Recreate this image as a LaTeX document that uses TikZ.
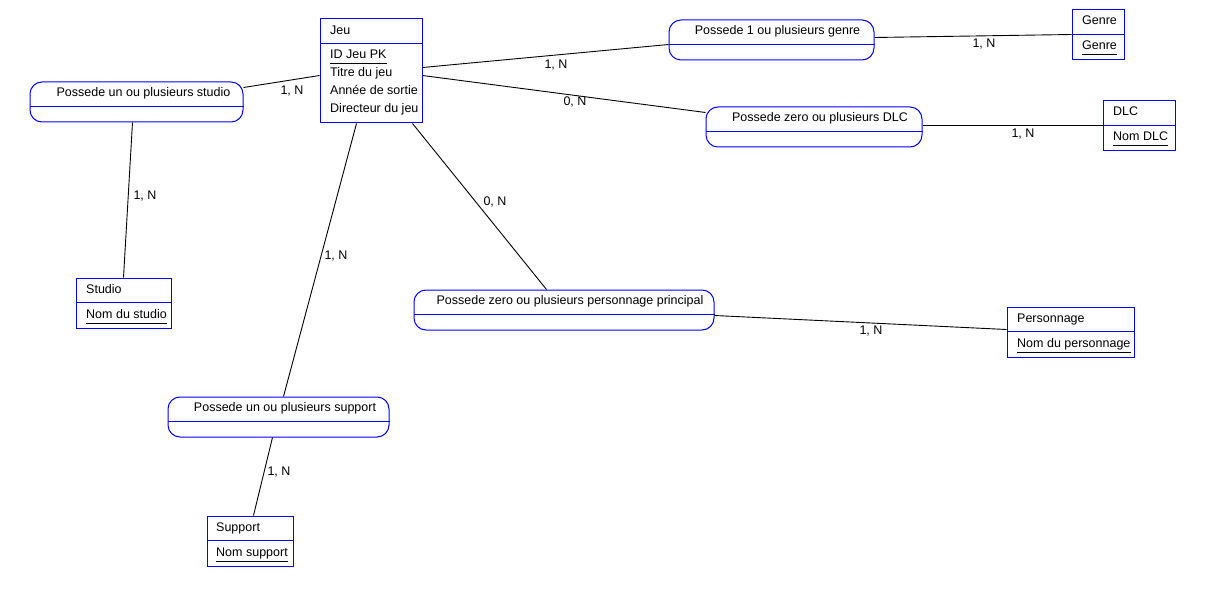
\documentclass[tikz,border=0pt]{standalone}
\usepackage{fontspec}
\setmainfont{Liberation Sans}
\usetikzlibrary{calc}
\definecolor{mcdblue}{RGB}{0,0,255}
\tikzset{
  x=1pt, y=-1pt,
  every node/.style={font=\fontsize{12.5}{14}\selectfont, text=black},
  ent/.style={draw=mcdblue, line width=1pt, rectangle, inner sep=0pt},
  rel/.style={draw=mcdblue, line width=1pt, rectangle, rounded corners=12pt, inner sep=0pt},
  div/.style={draw=mcdblue, line width=1pt},
  lnk/.style={draw=black, line width=0.9pt},
  card/.style={inner sep=0pt},
  txt/.style={inner sep=0pt, anchor=base west},
  ul/.style={draw=black, line width=1pt},
}
\begin{document}
\begin{tikzpicture}
\useasboundingbox[fill=white] (0,0) rectangle (1205,596);

% ---------- Entity Jeu ----------
\node[ent, minimum width=102pt, minimum height=104pt] (jeu) at (371,71) {};
\draw[div] ($(jeu.north west)+(0,25)$) -- ($(jeu.north east)+(0,25)$);
\node[txt] (jeut) at (330,35) {Jeu};
\node[txt] (jeua) at (330,59) {ID Jeu PK};
\node[txt] (jeub) at (330,77) {Titre du jeu};
\node[txt] (jeuc) at (330,95) {Année de sortie};
\node[txt] (jeud) at (330,113) {Directeur du jeu};
\draw[ul] ($(jeua.base west)+(0,5)$) -- ($(jeua.base east)+(0,5)$);

% ---------- Entity Genre ----------
\node[ent, minimum width=52pt, minimum height=50pt] (genre) at (1098,35) {};
\draw[div] ($(genre.north west)+(0,25)$) -- ($(genre.north east)+(0,25)$);
\node[txt] (genret) at (1082,25) {Genre};
\node[txt] (genrea) at (1082,50) {Genre};
\draw[ul] ($(genrea.base west)+(0,5)$) -- ($(genrea.base east)+(0,5)$);

% ---------- Entity DLC ----------
\node[ent, minimum width=72pt, minimum height=50pt] (dlc) at (1139,126) {};
\draw[div] ($(dlc.north west)+(0,25)$) -- ($(dlc.north east)+(0,25)$);
\node[txt] (dlct) at (1113,116) {DLC};
\node[txt] (dlca) at (1113,141) {Nom DLC};
\draw[ul] ($(dlca.base west)+(0,5)$) -- ($(dlca.base east)+(0,5)$);

% ---------- Entity Studio ----------
\node[ent, minimum width=95pt, minimum height=50pt] (studio) at (123.5,303) {};
\draw[div] ($(studio.north west)+(0,25)$) -- ($(studio.north east)+(0,25)$);
\node[txt] (studiot) at (86,293) {Studio};
\node[txt] (studioa) at (86,318) {Nom du studio};
\draw[ul] ($(studioa.base west)+(0,5)$) -- ($(studioa.base east)+(0,5)$);

% ---------- Entity Personnage ----------
\node[ent, minimum width=127pt, minimum height=50pt] (perso) at (1070.5,332) {};
\draw[div] ($(perso.north west)+(0,25)$) -- ($(perso.north east)+(0,25)$);
\node[txt] (persot) at (1017,322) {Personnage};
\node[txt] (persoa) at (1017,347) {Nom du personnage};
\draw[ul] ($(persoa.base west)+(0,5)$) -- ($(persoa.base east)+(0,5)$);

% ---------- Entity Support ----------
\node[ent, minimum width=86pt, minimum height=50pt] (support) at (250,541) {};
\draw[div] ($(support.north west)+(0,25)$) -- ($(support.north east)+(0,25)$);
\node[txt] (supportt) at (216,531) {Support};
\node[txt] (supporta) at (216,556) {Nom support};
\draw[ul] ($(supporta.base west)+(0,5)$) -- ($(supporta.base east)+(0,5)$);

% ---------- Relations ----------
\node[rel, minimum width=213pt, minimum height=40pt] (rstudio) at (136.5,102) {};
\draw[div] ($(rstudio.north west)+(0,25)$) -- ($(rstudio.north east)+(0,25)$);
\node (rstudiot) at (143.5,93) {Possede un ou plusieurs studio};

\node[rel, minimum width=205pt, minimum height=40pt] (rgenre) at (771.5,40) {};
\draw[div] ($(rgenre.north west)+(0,25)$) -- ($(rgenre.north east)+(0,25)$);
\node (rgenret) at (777.5,31) {Possede 1 ou plusieurs genre};

\node[rel, minimum width=216pt, minimum height=40pt] (rdlc) at (814,127) {};
\draw[div] ($(rdlc.north west)+(0,25)$) -- ($(rdlc.north east)+(0,25)$);
\node (rdlct) at (820,118) {Possede zero ou plusieurs DLC};

\node[rel, minimum width=300pt, minimum height=40pt] (rperso) at (564,310) {};
\draw[div] ($(rperso.north west)+(0,25)$) -- ($(rperso.north east)+(0,25)$);
\node (rpersot) at (570,301) {Possede zero ou plusieurs personnage principal};

\node[rel, minimum width=221pt, minimum height=40pt] (rsupport) at (278.5,417) {};
\draw[div] ($(rsupport.north west)+(0,25)$) -- ($(rsupport.north east)+(0,25)$);
\node (rsupportt) at (285,408) {Possede un ou plusieurs support};

% ---------- Connectors ----------
\draw[lnk] ($(jeu.north west)+(0,57)$) -- ($(rstudio.north east)+(0,6)$);
\draw[lnk] ($(rstudio.south west)+(103,0)$) -- ($(studio.north west)+(48,0)$);
\draw[lnk] ($(jeu.north east)+(0,49)$) -- ($(rgenre.north west)+(0,25)$);
\draw[lnk] ($(rgenre.north east)+(0,18)$) -- ($(genre.north west)+(0,25)$);
\draw[lnk] ($(jeu.north east)+(0,57)$) -- ($(rdlc.north west)+(0,6)$);
\draw[lnk] ($(rdlc.north east)+(0,19)$) -- ($(dlc.north west)+(0,25)$);
\draw[lnk] ($(jeu.south east)+(-10,0)$) -- ($(rperso.north west)+(133,0)$);
\draw[lnk] ($(rperso.north east)+(0,26)$) -- ($(perso.north west)+(0,23)$);
\draw[lnk] ($(jeu.south west)+(37,0)$) -- ($(rsupport.north west)+(116,0)$);
\draw[lnk] ($(rsupport.south west)+(105,0)$) -- ($(support.north west)+(47,0)$);

% ---------- Cardinalities ----------
\node[card] (c1) at (292,91) {1, N};
\node[card] (c2) at (145,196) {1, N};
\node[card] (c3) at (556,65) {1, N};
\node[card] (c4) at (984,44) {1, N};
\node[card] (c5) at (575,102) {0, N};
\node[card] (c6) at (1023,134) {1, N};
\node[card] (c7) at (495,202) {0, N};
\node[card] (c8) at (871,331) {1, N};
\node[card] (c9) at (336,256) {1, N};
\node[card] (c10) at (279,472) {1, N};
\end{tikzpicture}
\end{document}
